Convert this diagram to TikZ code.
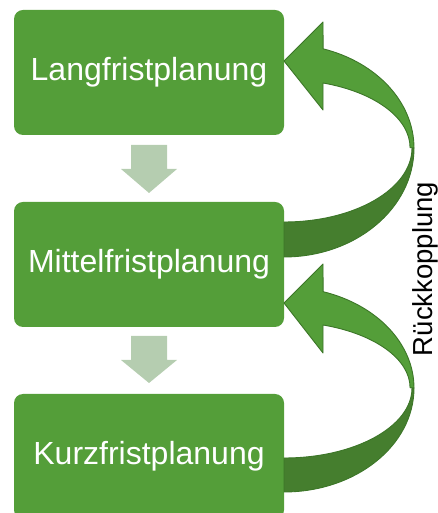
\documentclass[tikz,border=0pt]{standalone}
\usepackage{fontspec}
\setmainfont{Liberation Sans}
\definecolor{boxgreen}{RGB}{84,158,57}
\definecolor{backgreen}{RGB}{69,126,46}
\definecolor{edgegreen}{RGB}{60,118,40}
\definecolor{flowgreen}{RGB}{181,205,176}
\tikzset{
  planbox/.style={rectangle, rounded corners=9pt, fill=boxgreen, draw=none,
    minimum width=270pt, minimum height=125pt, inner sep=0pt,
    text=white, font=\fontsize{32}{38}\selectfont},
  flowarrow/.style={fill=flowgreen, draw=none},
  frontband/.style={fill=boxgreen, draw=edgegreen, line width=0.9pt, line join=round},
  backband/.style={fill=backgreen, draw=edgegreen, line width=0.9pt, line join=round},
  feedback/.style={font=\fontsize{27.5}{33}\selectfont, text=black, inner sep=0pt}
}
\begin{document}
\begin{tikzpicture}[x=1pt,y=1pt]
  \useasboundingbox (0,0) rectangle (438,513);
  \clip (0,0) rectangle (438,513);

  % planning levels
  \node[planbox] (lang)   at (149,440.5) {Langfristplanung};
  \node[planbox] (mittel) at (149,248.5) {Mittelfristplanung};
  \node[planbox] (kurz)   at (149,56.5)  {Kurzfristplanung};

  % downward block arrows between the levels
  \fill[flowarrow] (131,368) -- (167,368) -- (167,344) -- (177,344)
    -- (149,320) -- (121,344) -- (131,344) -- cycle;
  \fill[flowarrow] (131,177) -- (167,177) -- (167,153) -- (177,153)
    -- (149,130) -- (121,153) -- (131,153) -- cycle;

  % upper feedback ribbon: back face, then front face with head
  \draw[backband] (414,365)
    arc[start angle=0, end angle=-90, x radius=130, y radius=109]
    -- (284,291)
    arc[start angle=-90, end angle=0, x radius=128, y radius=74] -- cycle;
  \draw[frontband] (414,365)
    arc[start angle=0, end angle=72.5, x radius=130, y radius=104]
    -- (323,491) -- (284,452) -- (323,403) -- (323,430)
    arc[start angle=72, end angle=0, x radius=126, y radius=68] -- cycle;

  % lower feedback ribbon
  \draw[backband] (414,125)
    arc[start angle=0, end angle=-90, x radius=130, y radius=104]
    -- (284,55)
    arc[start angle=-90, end angle=0, x radius=128, y radius=70] -- cycle;
  \draw[frontband] (414,125)
    arc[start angle=0, end angle=72.5, x radius=130, y radius=101]
    -- (323,249) -- (284,210) -- (323,160) -- (323,188)
    arc[start angle=72, end angle=0, x radius=126, y radius=66] -- cycle;

  \node[feedback, rotate=90, anchor=base] (rueck) at (432,244) {Rückkopplung};
\end{tikzpicture}
\end{document}
